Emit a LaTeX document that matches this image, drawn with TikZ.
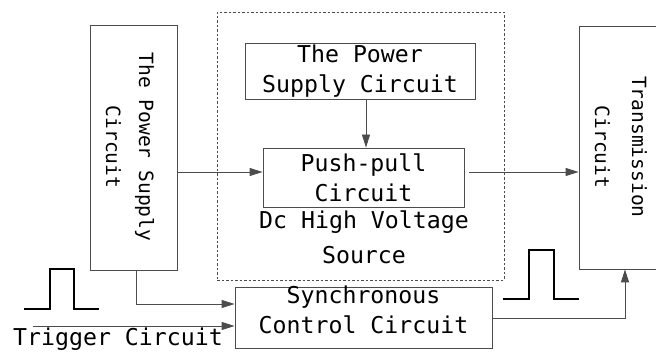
\documentclass[tikz,border=0pt]{standalone}
\usepackage{fontspec}
\setmainfont{DejaVu Sans Mono}
\usetikzlibrary{arrows.meta}
\begin{document}
\begin{tikzpicture}[x=1pt,y=-1pt,
  box/.style={draw=black!70,line width=0.8pt,rectangle,inner sep=0pt},
  txt/.style={font=\fontsize{23.2}{30}\selectfont,align=center,inner sep=0pt,text=black},
  rtxt/.style={font=\fontsize{19.6}{30}\selectfont,align=center,inner sep=0pt,text=black,rotate=-90},
  conn/.style={draw=black!70,line width=0.8pt,-{Triangle[length=13pt,width=8pt]}},
  pulse/.style={draw=black,line width=1.6pt}]
\useasboundingbox (0,0) rectangle (656,352);
% boxes
\node[box,minimum width=87pt,minimum height=245pt] (psL) at (133.5,147.5) {};
\node[draw=black!70,dash pattern=on 2.5pt off 2pt,line width=0.7pt,minimum width=287pt,minimum height=268pt,inner sep=0pt] (dc) at (360.5,146) {};
\node[box,minimum width=230pt,minimum height=56pt] (pst) at (360,71) {};
\node[txt] (pstt) at (360,71) {The Power\\Supply Circuit};
\node[box,minimum width=201pt,minimum height=59pt] (pp) at (363.5,177.5) {};
\node[txt] (ppt) at (363.5,177.5) {Push-pull\\Circuit};
\node[txt,text depth=0pt] (dct) at (364,237) {Dc High Voltage\\[5pt]Source};
\node[box,minimum width=101pt,minimum height=243pt] (tr) at (629.5,147.5) {};
\node[box,minimum width=257pt,minimum height=61pt] (sync) at (363.5,317.5) {};
\node[txt] (synct) at (363.5,310) {Synchronous\\Control Circuit};
% rotated texts
\node[rtxt] (psLt) at (130,147) {The Power Supply\\[3pt]Circuit};
\node[rtxt] (trt) at (621,147) {Transmission\\[7pt]Circuit};
\node[txt,anchor=base] (trig) at (118,346) {Trigger Circuit};
% connectors
\draw[conn] (pst.south -| 366,0) -- (pp.north -| 366,0);
\draw[conn] (psL.east |- 0,172) -- (pp.west |- 0,172);
\draw[conn] (pp.east |- 0,172) ++(5,0) -- (tr.west |- 0,172);
\coordinate (c1) at (136,304);
\draw[conn] (psL.south -| c1) -- (c1) -- (sync.west |- c1);
\coordinate (c2) at (33,326);
\draw[conn] (c2) -- (sync.west |- c2);
\coordinate (c3) at (625,318);
\draw[conn] (sync.east |- c3) -- (c3) -- (tr.south -| c3);
% pulses
\draw[pulse] (24,309) -- (50,309) -- (50,269) -- (74,269) -- (74,309) -- (99,309);
\draw[pulse] (503,299) -- (529,299) -- (529,250) -- (554,250) -- (554,299) -- (579,299);
\end{tikzpicture}
\end{document}
